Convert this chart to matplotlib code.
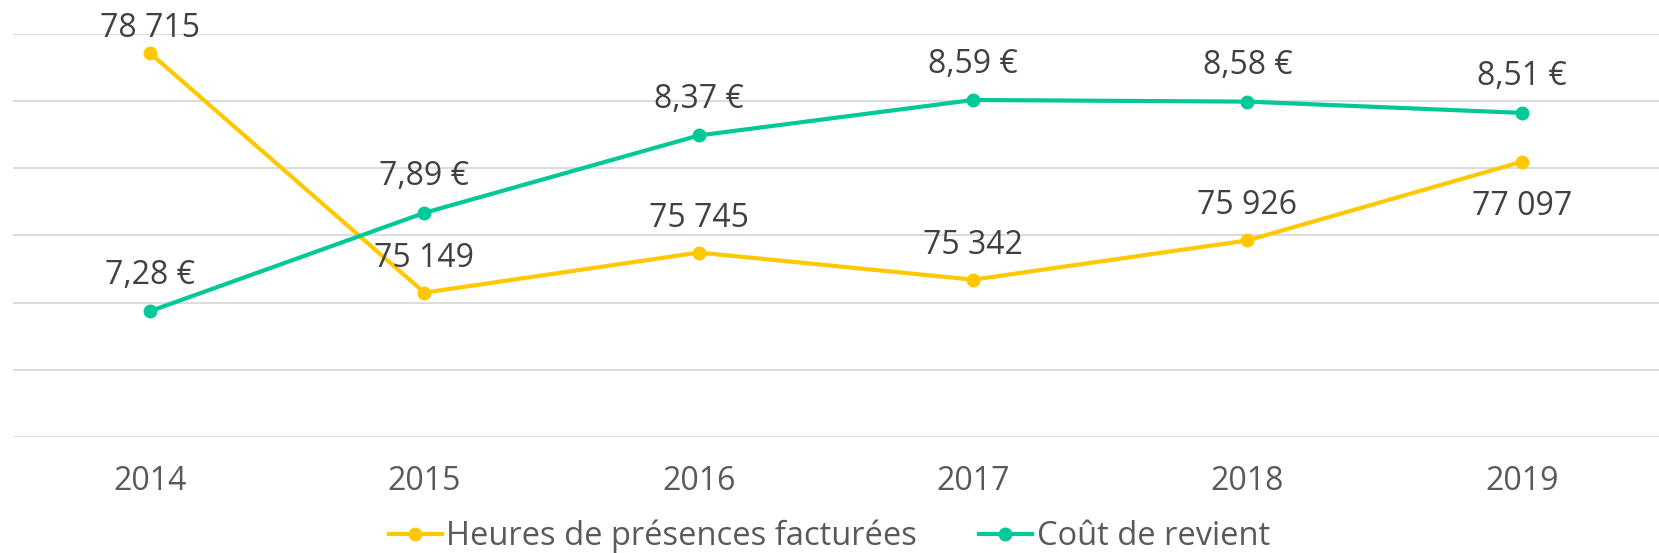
import matplotlib
matplotlib.use("Agg")
import matplotlib.pyplot as plt
from matplotlib.lines import Line2D

plt.rcParams['font.family'] = ['Open Sans', 'DejaVu Sans']

years = ['2014', '2015', '2016', '2017', '2018', '2019']
heures = [78715, 75149, 75745, 75342, 75926, 77097]
cout = [7.28, 7.89, 8.37, 8.59, 8.58, 8.51]

yellow = '#FFC800'
green = '#00C896'
txt = '#404040'
fs = 23


def fmt_int(v):
    return f"{v:,}".replace(',', ' ')


def fmt_eur(v):
    return f"{v:.2f}".replace('.', ',') + ' €'


fig = plt.figure(figsize=(16.59, 5.53), dpi=100)
ax = fig.add_axes([0.0077, 0.2098, 0.9923, 0.7289])
ax2 = ax.twinx()

x = list(range(len(years)))

ax.plot(x, heures, color=yellow, lw=3, marker='o', ms=9, zorder=3,
        solid_capstyle='round')
ax2.plot(x, cout, color=green, lw=3, marker='o', ms=9, zorder=3,
         solid_capstyle='round')

ax.set_ylim(73000, 79000)
ax.set_yticks(range(73000, 79001, 1000))
ax2.set_ylim(6.5, 9.0)
ax.set_xlim(-0.5, len(years) - 0.5)

ax.grid(axis='y', color='#D9D9D9', lw=1.3)
ax.set_axisbelow(True)
for a in (ax, ax2):
    for s in a.spines.values():
        s.set_visible(False)
    a.tick_params(length=0)
ax.set_yticklabels([])
ax2.set_yticks([])
ax.set_xticks(x)
ax.set_xticklabels(years, fontsize=fs, color='#595959')
ax.tick_params(axis='x', pad=20)

# data labels
for i, v in enumerate(heures):
    below = i == len(heures) - 1
    if below:
        off = -20
    elif i == 0:
        off = 6
    else:
        off = 13
    ax.annotate(fmt_int(v), (i, v), xytext=(0, off),
                textcoords='offset points', ha='center',
                va='top' if below else 'bottom', fontsize=fs, color=txt)
for i, v in enumerate(cout):
    ax2.annotate(fmt_eur(v), (i, v), xytext=(0, 14),
                 textcoords='offset points', ha='center', va='bottom',
                 fontsize=fs, color=txt)

handles = [
    Line2D([], [], color=yellow, lw=3, marker='o', ms=9),
    Line2D([], [], color=green, lw=3, marker='o', ms=9),
]
fig.legend(handles, ['Heures de présences facturées', 'Coût de revient'],
           loc='lower center', bbox_to_anchor=(0.5, -0.048), ncol=2,
           frameon=False, fontsize=23.5, labelcolor='#595959',
           handlelength=1.6, handletextpad=0.15, columnspacing=1.9,
           borderpad=0.3)

fig.savefig('out.png', dpi=100)
